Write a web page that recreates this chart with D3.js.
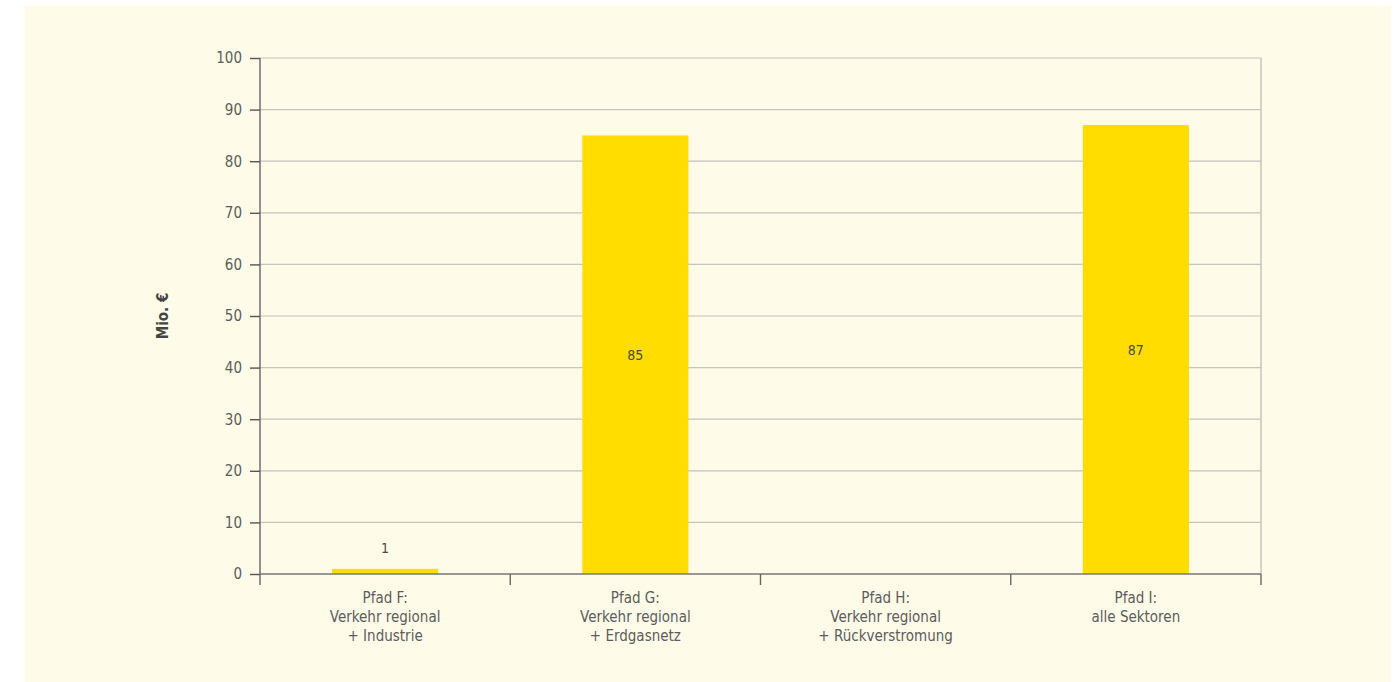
<!DOCTYPE html>
<html><head><meta charset="utf-8">
<script src="https://cdn.jsdelivr.net/npm/d3@7/dist/d3.min.js"></script>
<style>
body{margin:0;background:#fff;}
text{font-family:"Liberation Sans Narrow","DejaVu Sans Condensed","Roboto",sans-serif;}
</style></head><body>
<svg id="c" width="1394" height="682"></svg>
<script>
const categories = ["Pfad F:|Verkehr regional|+ Industrie","Pfad G:|Verkehr regional|+ Erdgasnetz","Pfad H:|Verkehr regional|+ Rückverstromung","Pfad I:|alle Sektoren"];
const values = [1, 85, null, 87];
const yTicks = [0,10,20,30,40,50,60,70,80,90,100];
const yTitle = "Mio. €";

const svg = d3.select("#c");
svg.append("rect").attr("x",25).attr("y",6).attr("width",1366).attr("height",676).attr("fill","#fefbe8");

const L=260,R=1261,T=58,B=574;
const x = d3.scaleBand().domain(categories).range([L,R]).paddingInner(0.576).paddingOuter(0.288);
const y = d3.scaleLinear().domain([0,100]).range([B,T]);
const textCol="#5c5c5c";
const fs = 15;

// gridlines
svg.append("g").selectAll("line").data(yTicks.filter(d=>d>0)).join("line")
 .attr("x1",L).attr("x2",R).attr("y1",d=>y(d)).attr("y2",d=>y(d))
 .attr("stroke","#c4c4c0").attr("stroke-width",1.2);
svg.append("line").attr("x1",R).attr("x2",R).attr("y1",T).attr("y2",B).attr("stroke","#c4c4c0").attr("stroke-width",1.5);

// bars
svg.append("g").selectAll("rect").data(categories.map((c,i)=>({c,v:values[i]})).filter(d=>d.v!=null)).join("rect")
 .attr("x",d=>x(d.c)).attr("width",x.bandwidth())
 .attr("y",d=>y(d.v)).attr("height",d=>B-y(d.v)).attr("fill","#ffdd00");

// value labels
svg.append("g").selectAll("text").data(categories.map((c,i)=>({c,v:values[i]})).filter(d=>d.v!=null)).join("text")
 .attr("x",d=>x(d.c)+x.bandwidth()/2)
 .attr("y",d=>d.v<10 ? y(d.v)-16 : y(d.v/2)+5)
 .attr("text-anchor","middle").attr("font-size",fs-1).attr("fill","#4a4a4a")
 .text(d=>d.v);

// y axis
const ya = svg.append("g").attr("transform",`translate(${L},0)`)
 .call(d3.axisLeft(y).tickValues(yTicks).tickSize(10).tickPadding(8));
ya.select(".domain").attr("stroke","#777").attr("stroke-width",1.6).attr("d",`M0,${T}V${B+11}`);
ya.selectAll(".tick line").attr("stroke","#555").attr("stroke-width",1.4);
ya.selectAll(".tick text").attr("font-size",fs).attr("fill",textCol).attr("font-family","Liberation Sans Narrow, DejaVu Sans Condensed, sans-serif");

// x axis
const xa = svg.append("g").attr("transform",`translate(0,${B})`);
xa.append("line").attr("x1",L).attr("x2",R).attr("stroke","#777").attr("stroke-width",1.6);
const bounds = d3.range(categories.length+1).map(i=>L+i*x.step());
xa.selectAll("line.tk").data(bounds.slice(1)).join("line").attr("class","tk")
 .attr("x1",d=>d).attr("x2",d=>d).attr("y1",0).attr("y2",11).attr("stroke","#666").attr("stroke-width",1.4);
categories.forEach(c=>{
  const t = xa.append("text").attr("x",x(c)+x.bandwidth()/2).attr("y",29)
    .attr("text-anchor","middle").attr("font-size",fs).attr("fill",textCol);
  c.split("|").forEach((line,i)=>t.append("tspan").attr("x",x(c)+x.bandwidth()/2).attr("dy",i?19:0).text(line));
});

// y title
svg.append("text").attr("transform",`translate(168,${(T+B)/2}) rotate(-90)`)
 .attr("text-anchor","middle").attr("font-size",fs).attr("font-weight","bold").attr("fill","#444").text(yTitle);
</script></body></html>
